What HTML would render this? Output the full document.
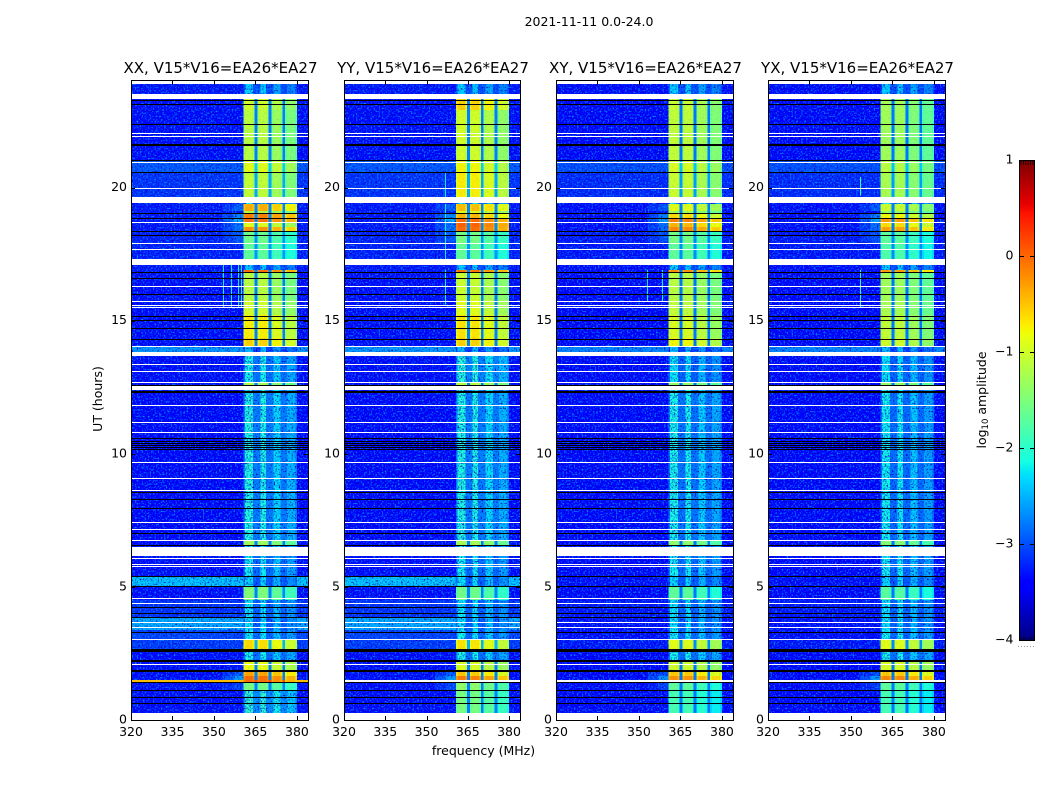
<!DOCTYPE html>
<html lang="en">
<head>
<meta charset="utf-8">
<title>2021-11-11 0.0-24.0</title>
<style>
html,body{margin:0;padding:0;background:#fff;}
svg{display:block;}
text{font-family:"DejaVu Sans","Liberation Sans",sans-serif;fill:#000;}
</style>
</head>
<body>
<svg id="figure" xmlns="http://www.w3.org/2000/svg" width="1050" height="800" viewBox="0 0 1050 800">
  <defs>
    <filter id="speckle-dark" x="0" y="0" width="100%" height="100%" color-interpolation-filters="sRGB">
      <feTurbulence type="fractalNoise" baseFrequency="0.62" numOctaves="1" seed="4"/>
      <feColorMatrix type="matrix" values="0 0 0 0 0  0 0 0 0 0  0 0 0 0 0.75  4 0 0 0 -2.05"/>
    </filter>
    <filter id="speckle-light" x="0" y="0" width="100%" height="100%" color-interpolation-filters="sRGB">
      <feTurbulence type="fractalNoise" baseFrequency="0.62" numOctaves="1" seed="11"/>
      <feColorMatrix type="matrix" values="0 0 0 0 0  0 0 0 0 0.55  0 0 0 0 1  0 4 0 0 -2.05"/>
    </filter>
  </defs>
  <text x="589" y="26" text-anchor="middle" font-size="12.5">2021-11-11 0.0-24.0</text>
  <text x="483.5" y="755" text-anchor="middle" font-size="12.5">frequency (MHz)</text>
  <text x="102" y="399" text-anchor="middle" font-size="12.5" transform="rotate(-90 102 399)">UT (hours)</text>
  <text x="986" y="400" text-anchor="middle" font-size="12.5" transform="rotate(-90 986 400)">log<tspan font-size="8.5" dy="2">10</tspan><tspan dy="-2"> amplitude</tspan></text>
  <g id="panels"></g>
  <g id="colorbar"></g>
</svg>
<script>
// ---------- data (hours, MHz, log10 amplitude) ----------
const panelTitles = ["XX, V15*V16=EA26*EA27", "YY, V15*V16=EA26*EA27", "XY, V15*V16=EA26*EA27", "YX, V15*V16=EA26*EA27"];
const xTickLabels = [320, 335, 350, 365, 380];
const yTickLabels = [0, 5, 10, 15, 20];
const colorbarTickLabels = [1, 0, -1, -2, -3, -4];

const timeEdges = [24, 23.36, 22.91, 21.03, 20.58, 19.64, 19.38, 19.12, 19.00, 18.85, 18.70, 18.52, 18.33, 17.92, 17.31, 16.90, 16.83, 15.77, 15.21, 14.35, 14.01, 13.78, 12.66, 12.58, 6.72, 6.57, 5.41, 5.00, 4.51, 3.87, 3.38, 3.00, 2.67, 2.18, 1.88, 1.80, 1.65, 1.52, 1.44, 1.13, 0.26, 0];

const backgroundXX = [-3.3,-3.35,-3.35,-2.95,-3.15,-3.3,-3.3,-3.3,-3.3,-3.3,-3.3,-3.3,-3.25,-3.25,-3.3,-3.3,-3.35,-3.35,-3.35,-3.35,-2.6,-3.35,-3.35,-3.4,-3.35,-3.35,-2.35,-3.35,-3.15,-2.5,-3.05,-3.1,-3.35,-3.35,-3.35,-3.35,-3.35,-0.45,-3.35,-3.35,-3.35];
const backgroundYY = [-3.3,-3.35,-3.35,-2.95,-3.15,-3.3,-3.3,-3.3,-3.3,-3.3,-3.3,-3.3,-3.25,-3.25,-3.3,-3.3,-3.35,-3.35,-3.35,-3.35,-2.6,-3.35,-3.35,-3.4,-3.35,-3.35,-2.35,-3.35,-3.15,-2.5,-3.05,-3.1,-3.35,-3.35,-3.35,-3.35,-3.35,null,-3.35,-3.35,-3.35];
const backgroundXY = [-3.35,-3.4,-3.4,-3.0,-3.2,-3.35,-3.35,-3.35,-3.35,-3.35,-3.35,-3.35,-3.3,-3.3,-3.35,-3.35,-3.4,-3.4,-3.4,-3.4,-2.7,-3.4,-3.4,-3.4,-3.4,-3.4,-3.35,-3.4,-3.3,-3.35,-3.35,-3.3,-3.4,-3.4,-3.4,-3.4,-3.4,null,-3.4,-3.4,-3.4];
const backgroundYX = [-3.35,-3.4,-3.4,-3.0,-3.2,-3.35,-3.35,-3.35,-3.35,-3.35,-3.35,-3.35,-3.3,-3.3,-3.35,-3.35,-3.4,-3.4,-3.4,-3.4,-2.7,-3.4,-3.4,-3.4,-3.4,-3.4,-3.35,-3.4,-3.3,-3.35,-3.35,-3.3,-3.4,-3.4,-3.4,-3.4,-3.4,null,-3.4,-3.4,-3.4];

const signalXX = [-2.4,-1.05,-1.2,-0.95,-1.15,-2.3,-0.45,-1.2,-0.2,-0.1,-0.95,-0.3,-1.65,-1.75,-2.4,-0.1,-1.2,-1.05,-0.8,-0.65,-2.5,-2.2,-1.3,-2.15,-1.35,-2.25,-2.35,-1.55,-2.3,-2.3,-2.25,-0.7,-2.2,-0.9,-2.2,-0.4,-0.1,-0.1,-1.6,-2.05,-3];
const signalYY = [-2.4,-0.65,-1.05,-0.85,-0.8,-2.3,-0.55,-1,-0.5,-0.1,-0.05,-0.1,-1.6,-1.75,-2.4,-0.15,-1.1,-0.95,-0.75,-0.65,-2.5,-2.1,-1.2,-2.15,-1.3,-2.25,-2.3,-1.65,-2.3,-2.3,-2.25,-0.75,-2.2,-1,-2.2,-0.6,-0.2,null,-1.45,-1.6,-3];
const signalXY = [-2.4,-1.1,-1.15,-1.0,-1.1,-2.3,-0.95,-1.3,-0.7,-0.2,-0.5,-0.25,-1.6,-1.75,-2.4,-0.3,-1.2,-1.15,-1,-0.85,-2.5,-2.3,-1.4,-2.2,-1.45,-2.25,-2.35,-1.75,-2.3,-2.3,-2.25,-0.95,-2.2,-1.05,-2.2,-0.6,-0.3,null,-1.75,-1.9,-3];
const signalYX = [-2.4,-1.3,-1.35,-1.2,-1.3,-2.3,-1.1,-1.4,-0.85,-0.35,-0.7,-0.4,-1.75,-1.85,-2.4,-0.35,-1.35,-1.3,-1.15,-1.05,-2.5,-2.3,-1.4,-2.25,-1.5,-2.25,-2.35,-1.8,-2.3,-2.3,-2.25,-0.95,-2.2,-1,-2.2,-0.6,-0.25,null,-1.75,-1.9,-3];
const shoulderRise = [0,0,0,0,0,0,0.4,0,0.6,0.8,0.5,0.5,0.3,0,0,0,0,0,0,0,0,0,0,0,0,0,0,0,0,0,0,0,0,0,0,0.4,0.8,0,0.3,0,0];

const backgroundByPanel = [backgroundXX, backgroundYY, backgroundXY, backgroundYX];
const signalByPanel = [signalXX, signalYY, signalXY, signalYX];

// frequency structure: subbands (start/end MHz) and their relative gain
const subbandStart = [360.7, 365.75, 370.75, 375.75];
const subbandEnd = [364.7, 369.8, 374.8, 380];
const subbandGain = [0.1, 0.08, -0.1, -0.3];
const weakSubbandInset = [0.5, 1.0, 0.7, 0.6];
const shoulderEdges = [353, 357, 360.7];

// flagged (blank) integrations, white; and empty integrations, black
const whiteLineHours = [22.05,21.93,20.96,19.98,18.84,18.72,17.92,17.69,16.30,15.74,15.59,15.53,14.05,13.37,13.11,12.69,11.83,11.19,10.82,9.69,9.09,8.64,7.44,7.17,6.76,4.58,4.39,3.68,3.49,3.04,2.10];
const whiteBlockStart = [24.0,23.53,19.64,17.31,13.82,12.56,6.50,6.08,5.86,5.77,0.26];
const whiteBlockEnd = [23.89,23.34,19.41,17.09,13.67,12.39,6.16,6.03,5.82,5.73,0];
const blackLineHours = [23.29,23.14,22.38,21.03,20.58,19.04,18.87,18.22,16.83,16.60,16.00,15.17,15.02,14.72,14.31,12.58,12.37,12.32,10.59,10.48,10.40,10.33,10.25,10.18,8.56,8.30,7.96,7.02,6.57,5.41,5.03,4.24,4.02,3.87,3.31,1.13,0.86,0.64];
const blackBlockStart = [21.63,18.37,2.67,2.25,1.88,1.43];
const blackBlockEnd = [21.56,18.31,2.54,2.18,1.80,1.40];

// narrow interference channels
const rfiPanel = [0,0,0,0,1,1,1,2,2,3,3];
const rfiFreq = [353.3,356,358.7,359.7,356.8,356.8,356.8,352.9,358.5,353.3,353.3];
const rfiStart = [17.09,17.09,17.09,17.09,20.58,19.38,16.9,16.9,16.9,20.4,16.9];
const rfiEnd = [15.47,15.47,15.47,15.47,19.6,17.28,15.6,15.7,15.7,19.7,15.5];
const rfiLevel = [-2.2,-2.2,-2.2,-2.2,-2.2,-2.2,-2.2,-2.2,-2.2,-2.0,-2.0];

// ---------- axis functions ----------
const panelLeft = [131, 344, 556, 768];
const panelWidths = [177, 176, 177, 177];
const plotTop = 81, plotHeight = 639;
function xScale(panel, mhz) { return panelLeft[panel] + (mhz - 320) * panelWidths[panel] / 64; }
function yScale(hour) { return plotTop + (24 - hour) * plotHeight / 24; }
function jetChannel(t, pts) {
  for (let i = 1; i < pts.length; i++) {
    if (t <= pts[i][0]) {
      const a = pts[i - 1], b = pts[i];
      return a[1] + (b[1] - a[1]) * (t - a[0]) / (b[0] - a[0]);
    }
  }
  return pts[pts.length - 1][1];
}
function jet(level) {
  const t = Math.max(0, Math.min(1, (level + 4) / 5));
  const r = jetChannel(t, [[0,0],[0.35,0],[0.66,1],[0.89,1],[1,0.5]]);
  const g = jetChannel(t, [[0,0],[0.125,0],[0.375,1],[0.64,1],[0.91,0],[1,0]]);
  const b = jetChannel(t, [[0,0.5],[0.11,1],[0.34,1],[0.65,0],[1,0]]);
  return 'rgb(' + Math.round(r * 255) + ',' + Math.round(g * 255) + ',' + Math.round(b * 255) + ')';
}

const SVGNS = 'http://www.w3.org/2000/svg';
function make(tag, attrs, parent) {
  const el = document.createElementNS(SVGNS, tag);
  for (const k in attrs) el.setAttribute(k, attrs[k]);
  parent.appendChild(el);
  return el;
}
function minusText(v) { return String(v).replace('-', '\u2212'); }

function addCell(group, panel, f0, f1, bandIndex, level) {
  const y0 = Math.round(yScale(timeEdges[bandIndex]));
  const y1 = Math.round(yScale(timeEdges[bandIndex + 1]));
  if (y1 <= y0) return;
  const x0 = xScale(panel, f0), x1 = xScale(panel, f1);
  const fill = level === null ? '#fff' : jet(level);
  const el = make('rect', {x: x0, y: y0, width: x1 - x0, height: y1 - y0, fill: fill, 'shape-rendering': 'crispEdges'}, group);
  
  
}

function addFlag(group, panel, startHour, endHour, color, name) {
  const y0 = Math.round(yScale(startHour));
  const y1 = endHour === null ? y0 + 1 : Math.max(y0 + 1, Math.round(yScale(endHour)));
  const el = make('rect', {x: panelLeft[panel], y: y0, width: panelWidths[panel], height: y1 - y0, fill: color, 'shape-rendering': 'crispEdges'}, group);
  
  
}

const panelsRoot = document.getElementById('panels');
const panelKeys = ['xx', 'yy', 'xy', 'yx'];
panelTitles.forEach(function (title, p) {
  const g = make('g', {}, panelsRoot);
  
  

  const pw = panelWidths[p];
  const bgVals = backgroundByPanel[p], sigVals = signalByPanel[p];
  const weak = make('g', {}, g);
  
  
  const noiseA = make('rect', {x: panelLeft[p], y: plotTop, width: pw, height: plotHeight, filter: 'url(#speckle-dark)'}, g);
  
  
  const noiseB = make('rect', {x: panelLeft[p], y: plotTop, width: pw, height: plotHeight, filter: 'url(#speckle-light)'}, g);
  
  
  const strong = make('g', {}, g);
  
  

  for (let b = 0; b < timeEdges.length - 1; b++) {
    const bg = bgVals[b], sig = sigVals[b], rise = shoulderRise[b];
    const bgGroup = bg === null || bg > -1.75 ? strong : weak;
    const weakRow = sig !== null && sig < -2;
    addCell(bgGroup, p, 320, shoulderEdges[0], b, bg);
    addCell(bgGroup, p, shoulderEdges[0], shoulderEdges[1], b, bg === null ? null : bg + rise * 0.5);
    addCell(bgGroup, p, shoulderEdges[1], shoulderEdges[2], b, bg === null ? null : bg + rise);
    if (weakRow) addCell(weak, p, subbandStart[0], subbandEnd[3], b, sig - 0.6);
    for (let s = 0; s < subbandStart.length; s++) {
      const v = sig === null ? null : sig + subbandGain[s];
      if (weakRow) {
        addCell(weak, p, subbandStart[s] + weakSubbandInset[s], subbandEnd[s] - weakSubbandInset[s], b, v);
      } else {
        addCell(strong, p, subbandStart[s], subbandEnd[s], b, v === null ? null : v - 0.14);
        addCell(strong, p, subbandStart[s] + 0.7, subbandEnd[s] - 0.7, b, v);
        if (s < subbandStart.length - 1) {
          addCell(strong, p, subbandEnd[s], subbandStart[s + 1], b, bg === null ? null : bg + 0.6);
        }
      }
    }
    addCell(bgGroup, p, subbandEnd[3], 384, b, bg);
  }

  rfiFreq.forEach(function (f, i) {
    if (rfiPanel[i] !== p) return;
    const y0 = yScale(rfiStart[i]), y1 = yScale(rfiEnd[i]);
    const el = make('rect', {x: Math.round(xScale(p, f)), y: y0, width: 1, height: y1 - y0, fill: jet(rfiLevel[i]), 'shape-rendering': 'crispEdges'}, strong);
    
    
  });

  const noiseC = make('rect', {x: panelLeft[p], y: plotTop, width: pw, height: plotHeight, filter: 'url(#speckle-light)', opacity: 0.16}, g);
  
  

  const flags = make('g', {}, g);
  
  
  whiteLineHours.forEach(function (h) { addFlag(flags, p, h, null, '#fff', 'white-flag-line'); });
  whiteBlockStart.forEach(function (h, i) { addFlag(flags, p, h, whiteBlockEnd[i], '#fff', 'white-flag-block'); });
  blackLineHours.forEach(function (h) { addFlag(flags, p, h, null, '#000', 'black-gap-line'); });
  blackBlockStart.forEach(function (h, i) { addFlag(flags, p, h, blackBlockEnd[i], '#000', 'black-gap-block'); });

  // frame
  const frame = make('rect', {x: panelLeft[p] + 0.5, y: plotTop - 0.5, width: pw, height: plotHeight + 1, fill: 'none', stroke: '#000', 'stroke-width': 1}, g);
  
  

  const ttl = make('text', {x: panelLeft[p] + pw / 2 + 1, y: 73, 'text-anchor': 'middle', 'font-size': 15}, g);
  ttl.textContent = title;
  
  

  xTickLabels.forEach(function (f) {
    const x = Math.round(xScale(p, f)) + 0.5;
    const t1 = make('line', {x1: x, x2: x, y1: plotTop + plotHeight, y2: plotTop + plotHeight - 4, stroke: '#000', 'stroke-width': 1}, g);
    
    
    const t2 = make('line', {x1: x, x2: x, y1: plotTop, y2: plotTop + 4, stroke: '#000', 'stroke-width': 1}, g);
    
    
    const lbl = make('text', {x: xScale(p, f), y: 736, 'text-anchor': 'middle', 'font-size': 12.5}, g);
    lbl.textContent = f;
    
    
  });
  yTickLabels.forEach(function (h) {
    const y = Math.round(yScale(h)) + 0.5;
    const t1 = make('line', {x1: panelLeft[p], x2: panelLeft[p] + 4, y1: y, y2: y, stroke: '#000', 'stroke-width': 1}, g);
    
    
    const t2 = make('line', {x1: panelLeft[p] + pw, x2: panelLeft[p] + pw - 4, y1: y, y2: y, stroke: '#000', 'stroke-width': 1}, g);
    
    
    const lbl = make('text', {x: panelLeft[p] - 4, y: yScale(h) + 3.6, 'text-anchor': 'end', 'font-size': 12.5}, g);
    lbl.textContent = h;
    
    
  });
});

// ---------- colorbar ----------
const cbarRoot = document.getElementById('colorbar');
const cbarLeft = 1020, cbarWidth = 14, cbarTop = 161, cbarHeight = 480;
function cbarY(level) { return cbarTop + (1 - level) * cbarHeight / 5; }
for (let py = 0; py < cbarHeight; py++) {
  const level = 1 - (py + 0.5) * 5 / cbarHeight;
  const el = make('rect', {x: cbarLeft, y: cbarTop + py, width: cbarWidth, height: 1, fill: jet(level), 'shape-rendering': 'crispEdges'}, cbarRoot);
  
  
}
const cbarFrame = make('rect', {x: cbarLeft - 0.5, y: cbarTop - 0.5, width: cbarWidth + 1, height: cbarHeight, fill: 'none', stroke: '#000', 'stroke-width': 1}, cbarRoot);


colorbarTickLabels.forEach(function (v) {
  const y = Math.round(cbarY(v)) - 0.5;
  const t1 = make('line', {x1: cbarLeft, x2: cbarLeft + 4, y1: y, y2: y, stroke: '#000'}, cbarRoot);
  
  
  const t2 = make('line', {x1: cbarLeft + cbarWidth, x2: cbarLeft + cbarWidth - 4, y1: y, y2: y, stroke: '#000'}, cbarRoot);
  
  
  const lbl = make('text', {x: 1013.5, y: cbarY(v) + 2.5, 'text-anchor': 'end', 'font-size': 12.5}, cbarRoot);
  lbl.textContent = minusText(v);
  
  
});
for (let i = 0; i < 6; i++) {
  const x = cbarLeft + 1 + i * 2.4;
  const a = make('line', {x1: x, x2: x, y1: cbarTop, y2: cbarTop + 4, stroke: '#000', 'stroke-width': 0.7}, cbarRoot);
  
  
  const b = make('line', {x1: x, x2: x, y1: cbarTop + cbarHeight, y2: cbarTop + cbarHeight - 4, stroke: '#000', 'stroke-width': 0.7}, cbarRoot);
  
  
}
const cbarDots = make('line', {x1: 1018, x2: 1035, y1: 646.5, y2: 646.5, stroke: '#999', 'stroke-width': 1, 'stroke-dasharray': '1 2'}, cbarRoot);


</script>
</body>
</html>
